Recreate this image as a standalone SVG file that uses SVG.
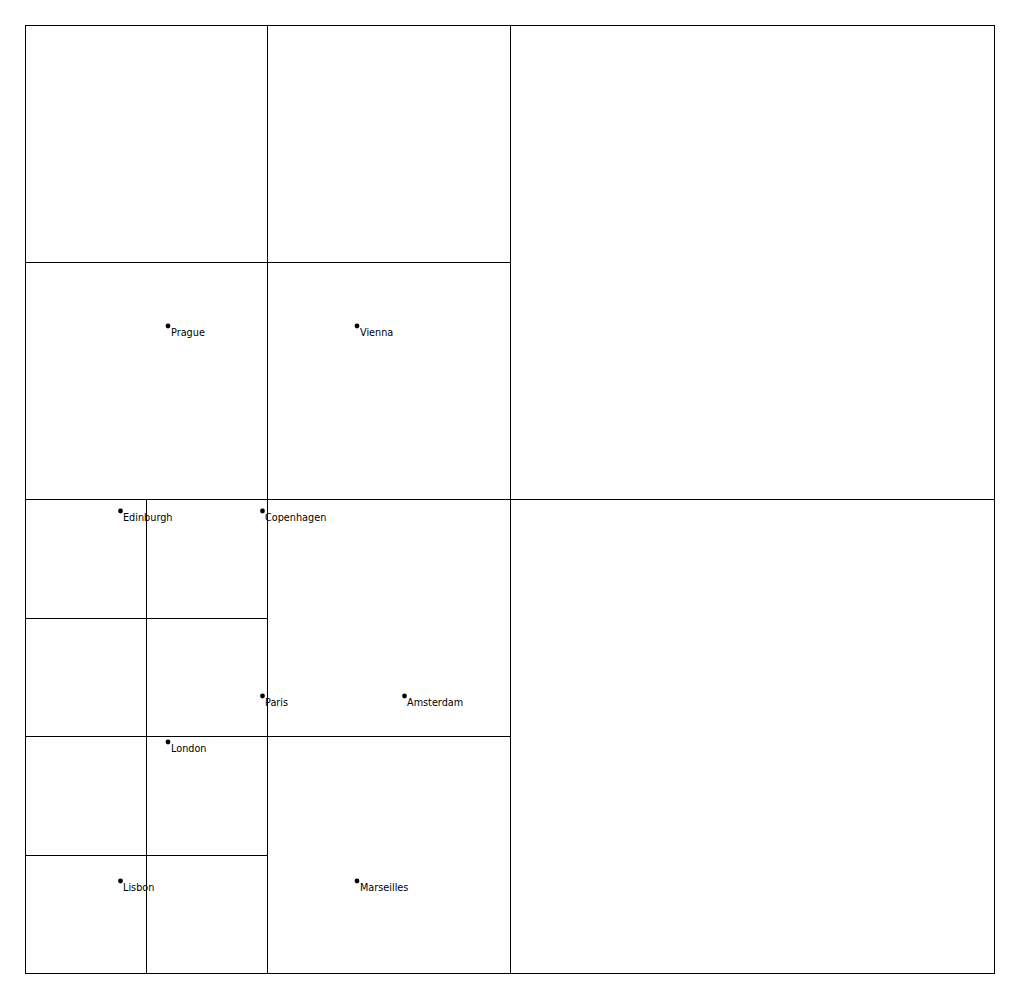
<svg xmlns="http://www.w3.org/2000/svg" width="1020" height="998" viewBox="0 0 1020 998">
<style>
.l{stroke:#000;stroke-width:1;fill:none}
.d{fill:#000}
.t{font-family:"DejaVu Sans",sans-serif;font-size:9.7px;fill:#000}
</style>
<rect width="1020" height="998" fill="#fff"/>
<g id="grid">
<rect class="l" x="25.5" y="25.5" width="969" height="948"/>
<line class="l" x1="267.5" y1="25" x2="267.5" y2="974"/>
<line class="l" x1="510.5" y1="25" x2="510.5" y2="974"/>
<line class="l" x1="25" y1="262.5" x2="511" y2="262.5"/>
<line class="l" x1="25" y1="499.5" x2="995" y2="499.5"/>
<line class="l" x1="25" y1="736.5" x2="511" y2="736.5"/>
<line class="l" x1="146.5" y1="499" x2="146.5" y2="974"/>
<line class="l" x1="25" y1="618.5" x2="268" y2="618.5"/>
<line class="l" x1="25" y1="855.5" x2="268" y2="855.5"/>
</g>
<g id="Prague"><circle class="d" cx="168" cy="326" r="2.4"/><text class="t" x="171" y="335.5">Prague</text></g>
<g id="Vienna"><circle class="d" cx="357" cy="326" r="2.4"/><text class="t" x="360" y="335.5">Vienna</text></g>
<g id="Edinburgh"><circle class="d" cx="120.5" cy="511" r="2.4"/><text class="t" x="123" y="520.5">Edinburgh</text></g>
<g id="Copenhagen"><circle class="d" cx="262.5" cy="511" r="2.4"/><text class="t" x="265" y="520.5">Copenhagen</text></g>
<g id="Paris"><circle class="d" cx="262.5" cy="696" r="2.4"/><text class="t" x="265" y="705.5">Paris</text></g>
<g id="Amsterdam"><circle class="d" cx="404.5" cy="696" r="2.4"/><text class="t" x="407" y="705.5">Amsterdam</text></g>
<g id="London"><circle class="d" cx="168" cy="742" r="2.4"/><text class="t" x="171" y="751.5">London</text></g>
<g id="Lisbon"><circle class="d" cx="120.5" cy="881" r="2.4"/><text class="t" x="123" y="890.5">Lisbon</text></g>
<g id="Marseilles"><circle class="d" cx="357" cy="881" r="2.4"/><text class="t" x="360" y="890.5">Marseilles</text></g>
</svg>
